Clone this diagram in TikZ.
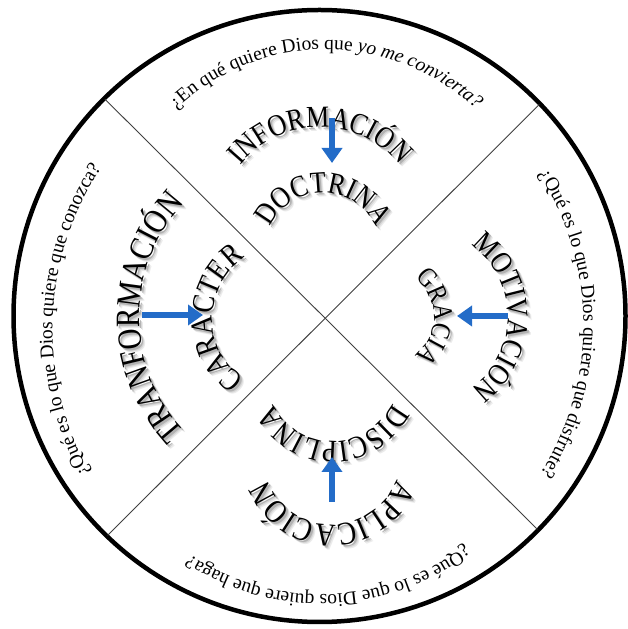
\documentclass[tikz,border=0pt]{standalone}
\usepackage{fontspec}
\setmainfont{Liberation Serif}
\newfontfamily\wafont[FakeStretch=0.85]{Liberation Serif}
\usetikzlibrary{decorations.text,arrows.meta}
\definecolor{arrowblue}{RGB}{35,108,200}
\newcommand\qfont{\fontsize{19.5}{19.5}\selectfont}
\newcommand\arcword[6]{%
  \foreach \dx/\col in {4/black!8, 3/black!16, 2/black!30} {
    \path[decorate, decoration={text along path, text align=center, text color=\col,
      text={|\wafont\fontsize{#5}{#5}\selectfont|#6}}]
      ([shift={(\dx,-\dx)}]#1) ++(#3:#2) arc[start angle=#3, end angle=#4, radius=#2];
  }
  \path[decorate, decoration={text along path, text align=center, text color=black,
      text={|\wafont\fontsize{#5}{#5}\selectfont|#6}}]
      (#1) ++(#3:#2) arc[start angle=#3, end angle=#4, radius=#2];
}
\tikzset{
  rim/.style={line width=4.5pt, draw=black},
  divider/.style={line width=0.9pt, draw=black!75},
  bluearrow/.style={line width=6pt, draw=arrowblue, -{Triangle[length=15pt,width=20pt]}},
  question/.style={decorate, decoration={text along path, text align=center}}
}
\begin{document}
\begin{tikzpicture}[x=1pt,y=1pt]
\useasboundingbox (0,0) rectangle (628,629);
\fill[white] (0,0) rectangle (628,629);
\coordinate (O) at (319.5,313);
\draw[rim] (O) circle[radius=306];
% dividers
\path (O) ++(134.7:305) coordinate (ul);
\path (O) ++(43.9:305) coordinate (ur);
\path (O) ++(226.0:305) coordinate (ll);
\path (O) ++(315.6:305) coordinate (lr);
\draw[divider] (ul) -- (lr);
\draw[divider] (ur) -- (ll);
% outer questions
\coordinate (qT) at (326,362);
\coordinate (qL) at (347,299);
\coordinate (qR) at (305,304);
\coordinate (qB) at (321,271);
\path[question, decoration={text={|\qfont|¿En qué quiere Dios que |\qfont\itshape|yo me convierta?}}]
  (qT) ++(170:217.5) arc[start angle=170, end angle=10, radius=217.5];
\path[question, decoration={text={|\qfont|¿Qué es lo que Dios quiere que conozca?}}]
  (qL) ++(237.8:294.5) arc[start angle=237.8, end angle=117.8, radius=294.5];
\path[question, decoration={text={|\qfont|¿Qué es lo que Dios quiere que disfrute?}}]
  (qR) ++(60.3:278.5) arc[start angle=60.3, end angle=-59.7, radius=278.5];
\path[question, decoration={text={|\qfont|¿Qué es lo que Dios quiere que haga?}}]
  (qB) ++(337.1:236.5) arc[start angle=337.1, end angle=207.1, radius=236.5];
% arched words
\coordinate (cInfo) at (320,399.4);
\coordinate (cDoc) at (323,377.5);
\coordinate (cTrans) at (307,312);
\coordinate (cCar) at (285.6,311);
\coordinate (cMot) at (419.7,312);
\coordinate (cGra) at (385,312);
\coordinate (cDis) at (333,253);
\coordinate (cApl) at (332,173);
\arcword{cInfo}{102.5}{170}{10}{30.5}{INFORMACIÓN}
\arcword{cDoc}{58.5}{178}{2}{30.5}{DOCTRINA}
\arcword{cTrans}{167.5}{250}{110}{34}{TRANFORMACIÓN}
\arcword{cCar}{73}{260}{100}{31.5}{CARACTER}
\arcword{cMot}{88}{80}{-80}{30.5}{MOTIVACIÓN}
\arcword{cGra}{49}{85}{-85}{27.5}{GRACIA}
\arcword{cDis}{65.5}{355}{185}{31.5}{DISCIPLINA}
\arcword{cApl}{68.5}{355}{185}{32.5}{APLICACIÓN}
% arrows
\coordinate (aT1) at (332,511); \coordinate (aT2) at (332,466);
\coordinate (aL1) at (142,314); \coordinate (aL2) at (203,314);
\coordinate (aR1) at (508,313); \coordinate (aR2) at (457,313);
\coordinate (aB1) at (332,127); \coordinate (aB2) at (332,172);
\draw[bluearrow] (aT1) -- (aT2);
\draw[bluearrow] (aL1) -- (aL2);
\draw[bluearrow] (aR1) -- (aR2);
\draw[bluearrow] (aB1) -- (aB2);
\end{tikzpicture}
\end{document}
